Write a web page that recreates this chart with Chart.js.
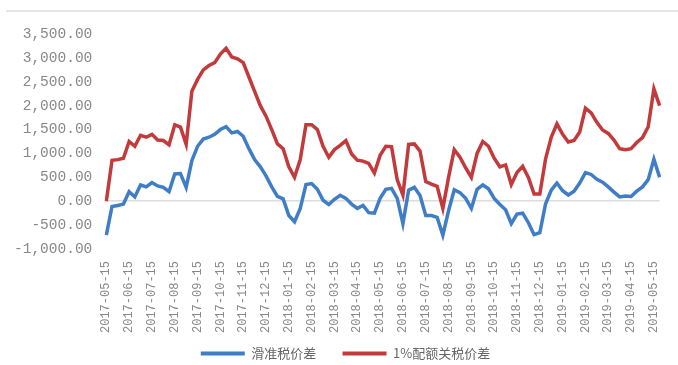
<!DOCTYPE html>
<html>
<head>
<meta charset="utf-8">
<script src="https://cdn.jsdelivr.net/npm/chart.js@4.4.1/dist/chart.umd.min.js"></script>
<style>
  body { margin: 0; background: #fff; }
  #wrap { position: relative; width: 678px; height: 365px; }
  #topline { position: absolute; left: 6px; right: 0; top: 10px; height: 2px; background: #e6e6e6; }
</style>
</head>
<body>
<div id="wrap">
  <div id="topline"></div>
  <canvas id="priceChart" width="678" height="365"></canvas>
</div>
<script>
// monthly tick labels, 4 samples per month
let months = ['2017-05-15', '2017-06-15', '2017-07-15', '2017-08-15', '2017-09-15', '2017-10-15',
    '2017-11-15', '2017-12-15', '2018-01-15', '2018-02-15', '2018-03-15', '2018-04-15',
    '2018-05-15', '2018-06-15', '2018-07-15', '2018-08-15', '2018-09-15', '2018-10-15',
    '2018-11-15', '2018-12-15', '2019-01-15', '2019-02-15', '2019-03-15', '2019-04-15', '2019-05-15'];

let slidingTax = [-710, -110, -90, -60, 200, 90, 340, 300, 390, 320,
    290, 200, 570, 580, 290, 850, 1150, 1300, 1340, 1400,
    1500, 1560, 1430, 1460, 1360, 1100, 870, 720, 530, 300,
    100, 50, -300, -430, -150, 350, 370, 250, 20, -70,
    40, 125, 60, -60, -150, -90, -240, -250, 60, 250,
    270, 60, -470, 230, 290, 120, -300, -300, -340, -710,
    -200, 240, 180, 60, -150, 250, 340, 260, 60, -70,
    -180, -470, -270, -250, -450, -700, -660, -60, 230, 380,
    220, 130, 210, 380, 600, 560, 460, 400, 300, 190,
    90, 110, 100, 210, 300, 450, 880, 500];

let quotaTax = [0, 855, 870, 900, 1250, 1150, 1380, 1340, 1400, 1280,
    1270, 1180, 1600, 1550, 1190, 2300, 2550, 2750, 2840, 2900,
    3080, 3200, 3020, 2980, 2900, 2600, 2300, 2000, 1780, 1500,
    1200, 1100, 720, 500, 870, 1600, 1600, 1500, 1150, 920,
    1080, 1170, 1270, 990, 860, 840, 790, 590, 960, 1150,
    1140, 450, 130, 1190, 1200, 1050, 410, 360, 310, -150,
    500, 1080, 920, 700, 500, 1000, 1250, 1150, 900, 720,
    760, 350, 600, 730, 500, 150, 150, 880, 1340, 1620,
    1400, 1240, 1270, 1450, 1950, 1850, 1650, 1490, 1420, 1280,
    1100, 1080, 1100, 1230, 1330, 1560, 2350, 2000];

let seriesNames = ['滑准税价差', '1%配额关税价差'];

let labels = slidingTax.map((v, i) => (i % 4 === 0 && months[i / 4]) ? months[i / 4] : '');

let ctx = document.getElementById('priceChart');

let config = {
    type : 'line',
    data : {
        labels : labels,
        datasets : [{
            label : seriesNames[0],
            data : slidingTax,
            borderColor : '#3f7ec6',
            backgroundColor : '#3f7ec6',
            borderWidth : 3.5,
            pointRadius : 0,
            tension : 0
        }, {
            label : seriesNames[1],
            data : quotaTax,
            borderColor : '#c23a3b',
            backgroundColor : '#c23a3b',
            borderWidth : 3.5,
            pointRadius : 0,
            tension : 0
        }]
    },
    options : {
        responsive : false,
        animation : false,
        layout : { padding : { top : 34, left : 0, right : -13, bottom : -5 } },
        plugins : {
            tooltip : { enabled : false },
            legend : {
                position : 'bottom',
                labels : {
                    boxWidth : 44,
                    boxHeight : 4,
                    padding : 10,
                    color : '#666',
                    font : { family : '"Noto Sans CJK SC"', size : 13 },
                    // wider gap after the first entry, no outline on the swatch
                    generateLabels : (chart) => Chart.defaults.plugins.legend.labels.generateLabels(chart)
                        .map((item, i) => Object.assign(item, { lineWidth : 0, text : i === 0 ? item.text + '\u2003\u2005' : item.text }))
                }
            }
        },
        scales : {
            x : {
                offset : false,
                grid : { display : false },
                border : { display : false },
                ticks : {
                    autoSkip : false,
                    minRotation : 90,
                    maxRotation : 90,
                    padding : 4,
                    color : '#888',
                    font : { family : '"Liberation Mono"', size : 12 }
                }
            },
            y : {
                min : -1000,
                max : 3500,
                border : { display : false },
                grid : {
                    drawTicks : false,
                    lineWidth : 1.5,
                    color : (c) => c.tick && c.tick.value === 0 ? '#dcdcdc' : 'rgba(0,0,0,0)'
                },
                ticks : {
                    stepSize : 500,
                    padding : 14,
                    color : '#888',
                    font : { family : '"Liberation Mono"', size : 14.5 },
                    callback : (v) => v.toLocaleString('en-US', { minimumFractionDigits : 2, maximumFractionDigits : 2 })
                }
            }
        }
    }
}

let chart = new Chart(ctx, config);
</script>
</body>
</html>
